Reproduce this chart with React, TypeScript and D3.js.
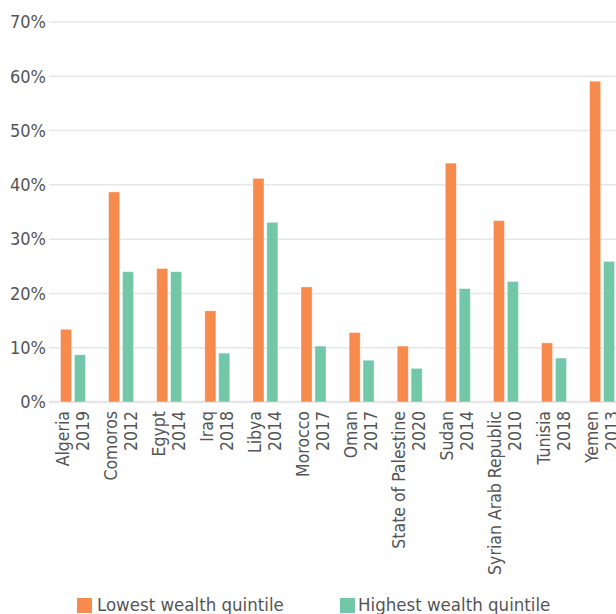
import React from "react";
import * as d3 from "d3";

const countries = ["Algeria", "Comoros", "Egypt", "Iraq", "Libya", "Morocco", "Oman", "State of Palestine", "Sudan", "Syrian Arab Republic", "Tunisia", "Yemen"];
const years = ["2019", "2012", "2014", "2018", "2014", "2017", "2017", "2020", "2014", "2010", "2018", "2013"];
const lowest = [13.4, 38.7, 24.6, 16.8, 41.2, 21.2, 12.8, 10.3, 44.0, 33.4, 10.9, 59.1];
const highest = [8.7, 24.0, 24.0, 9.0, 33.1, 10.3, 7.7, 6.2, 20.9, 22.2, 8.1, 25.9];
const seriesNames = ["Lowest wealth quintile", "Highest wealth quintile"];
const seriesColors = ["#f68b4d", "#73c7a9"];
const yTicks = [0, 10, 20, 30, 40, 50, 60, 70];

const W = 616;
const H = 614;
const FONT = "'Liberation Sans Narrow', 'DejaVu Sans Condensed', 'Roboto', sans-serif";

export default function App() {
  const y = d3.scaleLinear().domain([0, 70]).range([402, 22]);
  const x0 = d3.scaleBand<string>().domain(countries).range([49, 49 + 12 * 48.1]).paddingInner(0).paddingOuter(0);
  const x1 = d3.scaleBand<string>().domain(seriesNames).range([11.5, 36.5]).paddingInner(0.2);
  const values = [lowest, highest];

  return (
    <svg width={W} height={H} style={{ position: "absolute", left: 0, top: 0, overflow: "hidden" }} fontFamily={FONT}>
      <rect x={0} y={0} width={W} height={H} fill="#fff" />
      {yTicks.map((t) => (
        <g key={t}>
          <line x1={49} x2={W} y1={y(t)} y2={y(t)} stroke="#e6e6e6" strokeWidth={t === 0 ? 2.5 : 1.5} />
          <text x={46} y={y(t)} dy="0.35em" textAnchor="end" fontSize={18} fill="#555">{t}%</text>
        </g>
      ))}
      {countries.map((c, i) => (
        <g key={c} transform={`translate(${x0(c)},0)`}>
          {seriesNames.map((s, k) => (
            <rect
              key={s}
              x={x1(s)}
              y={y(values[k][i])}
              width={x1.bandwidth()}
              height={y(0) - y(values[k][i])}
              fill={seriesColors[k]}
              stroke="#fff"
              strokeOpacity={0.5}
              strokeWidth={0.8}
            />
          ))}
          <g transform={`translate(${x0.bandwidth() / 2 - 0.5},411) rotate(-90)`}>
            <text textAnchor="end" fontSize={17.5} fill="#555" dominantBaseline="central">
              <tspan x={0} y={-10}>{c}</tspan>
              <tspan x={0} y={10}>{years[i]}</tspan>
            </text>
          </g>
        </g>
      ))}
      {seriesNames.map((s, k) => {
        const lx = k === 0 ? 77 : 340;
        const tx = k === 0 ? 97 : 358;
        return (
          <g key={s}>
            <rect x={lx} y={598} width={15} height={15} fill={seriesColors[k]} />
            <text x={tx} y={611} fontSize={18.5} fill="#555">{s}</text>
          </g>
        );
      })}
    </svg>
  );
}
